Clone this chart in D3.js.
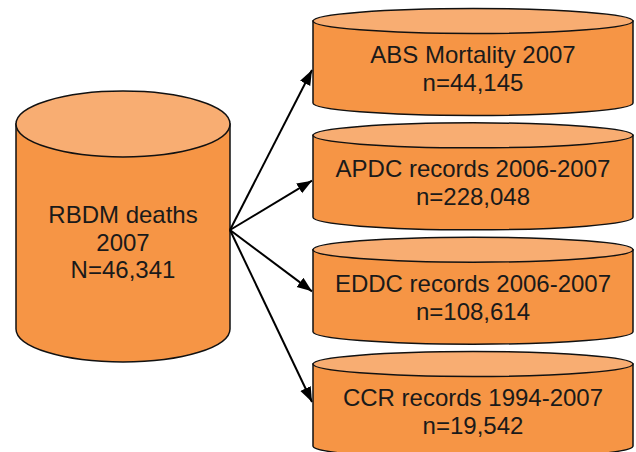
<!DOCTYPE html>
<html>
<head>
<meta charset="utf-8">
<script src="https://cdn.jsdelivr.net/npm/d3@7"></script>
<style>
  body { margin: 0; background: #fff; }
  svg { display: block; }
</style>
</head>
<body>
<div id="chart"></div>
<script>
// source database (left cylinder)
var sourceLines = ["RBDM deaths", "2007", "N=46,341"];

// linked datasets (right cylinders)
var targetNames = ["ABS Mortality 2007", "APDC records 2006-2007", "EDDC records 2006-2007", "CCR records 1994-2007"];
var targetCounts = ["n=44,145", "n=228,048", "n=108,614", "n=19,542"];

var width = 636, height = 452;
var bodyColor = "#F69545", topColor = "#F8AD72";

var svg = d3.select("#chart").append("svg")
  .attr("width", width)
  .attr("height", height);

svg.append("defs").append("marker")
  .attr("id", "head")
  .attr("viewBox", "0 0 10 10")
  .attr("refX", 10).attr("refY", 5)
  .attr("markerWidth", 7.5).attr("markerHeight", 7.5)
  .attr("markerUnits", "strokeWidth")
  .attr("orient", "auto")
  .append("path")
  .attr("d", "M0,1.2 L10,5 L0,8.8 Z")
  .attr("fill", "#000");

// draws a cylinder: cx, top ellipse center y, rx, ry, height of body
function cylinder(g, cx, ty, rx, ry, h) {
  var l = cx - rx, r = cx + rx, by = ty + h;
  g.append("path")
    .attr("d", "M" + l + "," + ty + " L" + l + "," + by +
      " A" + rx + "," + ry + " 0 0 0 " + r + "," + by +
      " L" + r + "," + ty + " Z")
    .attr("fill", bodyColor)
    .attr("stroke", "#111")
    .attr("stroke-width", 1.5);
  g.append("ellipse")
    .attr("cx", cx).attr("cy", ty)
    .attr("rx", rx).attr("ry", ry)
    .attr("fill", topColor)
    .attr("stroke", "#111")
    .attr("stroke-width", 1.5);
}

var font = "'Liberation Sans', Arial, sans-serif";

// left cylinder
var src = svg.append("g");
cylinder(src, 123, 124, 107, 33, 205);
src.append("text")
  .attr("text-anchor", "middle")
  .style("font-family", font)
  .style("font-size", "24px")
  .attr("fill", "#1a1a1a")
  .selectAll("tspan")
  .data(sourceLines)
  .enter().append("tspan")
  .attr("x", 123)
  .attr("y", function(d, i) { return 223 + i * 27.5; })
  .text(function(d) { return d; });

// vertical placement of the targets
var yTop = d3.scalePoint().domain(targetNames).range([21, 364]);
var yTip = d3.scalePoint().domain(targetNames).range([70, 402]);

// arrows
svg.selectAll("line.arrow")
  .data(targetNames)
  .enter().append("line")
  .attr("class", "arrow")
  .attr("x1", 230).attr("y1", 230)
  .attr("x2", 312)
  .attr("y2", function(d) { return yTip(d); })
  .attr("stroke", "#000")
  .attr("stroke-width", 2)
  .attr("marker-end", "url(#head)");

// right cylinders
var tg = svg.selectAll("g.target")
  .data(targetNames)
  .enter().append("g")
  .attr("class", "target");

tg.each(function(d) {
  cylinder(d3.select(this), 473, yTop(d), 160, 12.5, 82);
});

tg.append("text")
  .attr("x", 473)
  .attr("y", function(d) { return yTop(d) + 42; })
  .attr("text-anchor", "middle")
  .style("font-family", font)
  .style("font-size", "24px")
  .attr("fill", "#1a1a1a")
  .text(function(d) { return d; });

tg.append("text")
  .attr("x", 473)
  .attr("y", function(d) { return yTop(d) + 70; })
  .attr("text-anchor", "middle")
  .style("font-family", font)
  .style("font-size", "24px")
  .attr("fill", "#1a1a1a")
  .text(function(d, i) { return targetCounts[i]; });
</script>
</body>
</html>
